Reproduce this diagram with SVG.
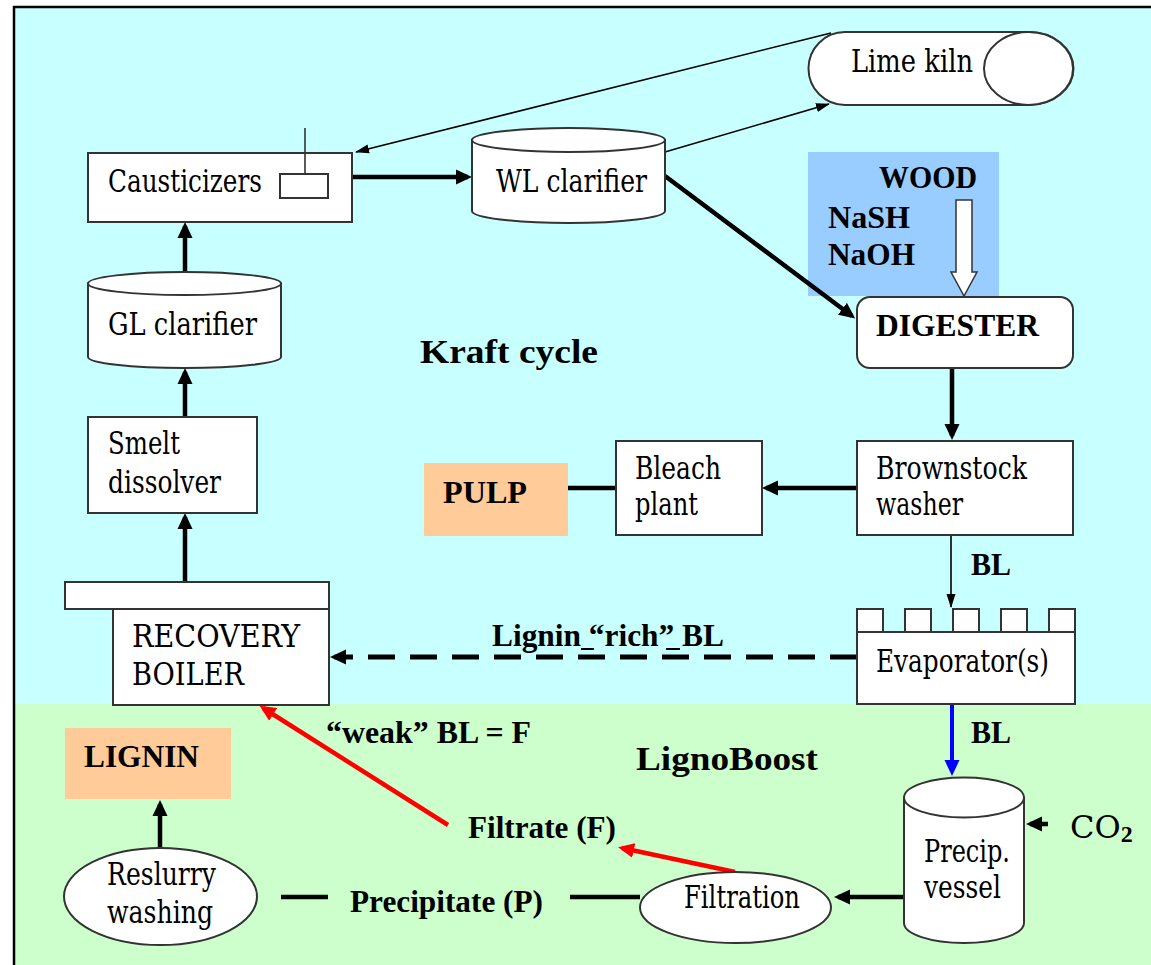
<svg xmlns="http://www.w3.org/2000/svg" width="1151" height="965" viewBox="0 0 1151 965">
<style>
.box{fill:#fff;stroke:#333;stroke-width:2}
.t{font-family:'Liberation Serif','Times New Roman',serif;font-size:32px;font-weight:normal;fill:#000}
.r{font-family:'DejaVu Serif','Liberation Serif',serif;font-weight:normal}
.b{font-weight:bold}
.big{font-size:34px;font-weight:bold}
.thick{stroke:#000;stroke-width:4.5;fill:none}
.thin{stroke:#000;stroke-width:1.6;fill:none}
.red{stroke:#f00;stroke-width:4.5;fill:none}
.blue{stroke:#00f;stroke-width:4;fill:none}
</style>
<defs>
<marker id="ah" markerUnits="userSpaceOnUse" markerWidth="16" markerHeight="16" refX="12" refY="8" orient="auto"><path d="M0,0.5 L16,8 L0,15.5 Z" fill="#000"/></marker>
<marker id="ahr" markerUnits="userSpaceOnUse" markerWidth="16" markerHeight="16" refX="12" refY="8" orient="auto"><path d="M0,0.5 L16,8 L0,15.5 Z" fill="#f00"/></marker>
<marker id="ahb" markerUnits="userSpaceOnUse" markerWidth="16" markerHeight="16" refX="12" refY="8" orient="auto"><path d="M0,0.5 L16,8 L0,15.5 Z" fill="#00f"/></marker>
<marker id="aht" markerUnits="userSpaceOnUse" markerWidth="14" markerHeight="10" refX="13" refY="5" orient="auto"><path d="M0,0.5 L14,5 L0,9.5 Z" fill="#000"/></marker>
</defs>

<g id="background">
<rect x="14" y="7" width="1137" height="697" fill="#C8FFFF"/>
<rect x="14" y="704" width="1137" height="261" fill="#CCFFCC"/>
<line x1="13" y1="7" x2="1151" y2="7" stroke="#000" stroke-width="2.5"/>
<line x1="14" y1="6" x2="14" y2="965" stroke="#000" stroke-width="2.5"/>
</g>

<g id="titles">
<text class="t big" x="420" y="363" textLength="178" lengthAdjust="spacingAndGlyphs">Kraft cycle</text>
<text class="t big" x="636" y="770" textLength="182" lengthAdjust="spacingAndGlyphs">LignoBoost</text>
</g>

<g id="wood">
<rect x="808" y="152" width="191" height="144" fill="#99CCFF"/>
<text class="t b" x="879" y="188" textLength="98" lengthAdjust="spacingAndGlyphs">WOOD</text>
<text class="t b" x="828" y="228" textLength="82" lengthAdjust="spacingAndGlyphs">NaSH</text>
<text class="t b" x="828" y="265" textLength="87" lengthAdjust="spacingAndGlyphs">NaOH</text>
<path d="M956,200 L972,200 L972,272 L977,272 L964,296 L951,272 L956,272 Z" fill="#fff" stroke="#333" stroke-width="1.5"/>
</g>

<g id="connectors">
<line class="thin" x1="831" y1="33" x2="356" y2="152" marker-end="url(#aht)"/>
<line class="thick" x1="352" y1="177" x2="468" y2="177" marker-end="url(#ah)"/>
<line class="thin" x1="665" y1="152" x2="829" y2="104" marker-end="url(#aht)"/>
<line class="thick" x1="665" y1="176" x2="852" y2="316" marker-end="url(#ah)"/>
<line class="thick" x1="952" y1="368" x2="952" y2="436" marker-end="url(#ah)"/>
<line class="thick" x1="857" y1="488" x2="766" y2="488" marker-end="url(#ah)"/>
<line class="thick" x1="616" y1="488" x2="568" y2="488"/>
<line class="thin" x1="951" y1="535" x2="951" y2="607" stroke-width="2" marker-end="url(#aht)"/>
<line x1="857" y1="657" x2="345" y2="657" stroke="#000" stroke-width="5" stroke-dasharray="27 15"/>
<line class="thick" x1="345" y1="657" x2="334" y2="657" marker-end="url(#ah)"/>
<line x1="581" y1="649" x2="594" y2="649" stroke="#000" stroke-width="2"/>
<line x1="666" y1="649" x2="680" y2="649" stroke="#000" stroke-width="2"/>
<line class="blue" x1="952" y1="704" x2="952" y2="772" marker-end="url(#ahb)"/>
<line class="thick" x1="1048" y1="824" x2="1030" y2="824" marker-end="url(#ah)"/>
<line class="thick" x1="904" y1="897" x2="838" y2="897" marker-end="url(#ah)"/>
<line class="red" x1="735" y1="872" x2="622" y2="848" marker-end="url(#ahr)"/>
<line class="red" x1="448" y1="825" x2="263" y2="708" marker-end="url(#ahr)"/>
<line class="thick" x1="160" y1="848" x2="160" y2="804" marker-end="url(#ah)"/>
<line class="thick" x1="281" y1="897" x2="328" y2="897"/>
<line class="thick" x1="570" y1="897" x2="640" y2="897"/>
<line class="thick" x1="185" y1="272" x2="185" y2="226" marker-end="url(#ah)"/>
<line class="thick" x1="185" y1="417" x2="185" y2="372" marker-end="url(#ah)"/>
<line class="thick" x1="185" y1="582" x2="185" y2="517" marker-end="url(#ah)"/>
</g>

<g id="label-lignin-rich">
<text class="t b" x="492" y="646" textLength="232" lengthAdjust="spacingAndGlyphs">Lignin “rich” BL</text>
</g>
<g id="label-bl1"><text class="t b" x="971" y="575" textLength="40" lengthAdjust="spacingAndGlyphs">BL</text></g>
<g id="label-bl2"><text class="t b" x="971" y="743" textLength="40" lengthAdjust="spacingAndGlyphs">BL</text></g>
<g id="label-weak"><text class="t b" x="326" y="743" textLength="205" lengthAdjust="spacingAndGlyphs">“weak” BL = F</text></g>
<g id="label-filtrate"><text class="t b" x="468" y="838" textLength="148" lengthAdjust="spacingAndGlyphs">Filtrate (F)</text></g>
<g id="label-precipitate"><text class="t b" x="350" y="912" textLength="193" lengthAdjust="spacingAndGlyphs">Precipitate (P)</text></g>
<g id="label-co2"><text class="t r" x="1070" y="838" font-size="28">CO<tspan font-family="Liberation Serif, serif" font-weight="bold" font-size="24" dy="4">2</tspan></text></g>

<g id="lime-kiln">
<path class="box" d="M845,32 L1029,32 A44.5,36.5 0 0 1 1029,105 L845,105 A36.5,36.5 0 0 1 845,32 Z"/>
<ellipse class="box" cx="1028.5" cy="68.5" rx="44.5" ry="36.5"/>
<text class="t r" x="851" y="72" textLength="122" lengthAdjust="spacingAndGlyphs">Lime kiln</text>
</g>

<g id="causticizers">
<rect class="box" x="88" y="153" width="264" height="69"/>
<rect class="box" x="280" y="174" width="48" height="24"/>
<line x1="305" y1="128" x2="305" y2="174" stroke="#333" stroke-width="1.6"/>
<text class="t r" x="108" y="192" textLength="154" lengthAdjust="spacingAndGlyphs">Causticizers</text>
</g>

<g id="wl-clarifier">
<path class="box" d="M472,140 L472,211 A96.5,12 0 0 0 665,211 L665,140 Z"/>
<ellipse class="box" cx="568.5" cy="140" rx="96.5" ry="12"/>
<text class="t r" x="496" y="192" textLength="151" lengthAdjust="spacingAndGlyphs">WL clarifier</text>
</g>

<g id="gl-clarifier">
<path class="box" d="M88,283.5 L88,357 A96.5,11 0 0 0 281,357 L281,283.5 Z"/>
<ellipse class="box" cx="184.5" cy="283.5" rx="96.5" ry="11.5"/>
<text class="t r" x="108" y="335" textLength="149" lengthAdjust="spacingAndGlyphs">GL clarifier</text>
</g>

<g id="smelt-dissolver">
<rect class="box" x="88" y="417" width="169" height="96"/>
<text class="t r" x="108" y="454" textLength="72" lengthAdjust="spacingAndGlyphs">Smelt</text>
<text class="t r" x="108" y="493" textLength="113" lengthAdjust="spacingAndGlyphs">dissolver</text>
</g>

<g id="recovery-boiler">
<rect class="box" x="65" y="582" width="264" height="27"/>
<rect class="box" x="113" y="609" width="216" height="96"/>
<text class="t r" x="132" y="647" textLength="168" lengthAdjust="spacingAndGlyphs">RECOVERY</text>
<text class="t r" x="132" y="685" textLength="112" lengthAdjust="spacingAndGlyphs">BOILER</text>
</g>

<g id="digester">
<rect class="box" x="857" y="297" width="216" height="71" rx="13"/>
<text class="t b" x="876" y="336" textLength="163" lengthAdjust="spacingAndGlyphs">DIGESTER</text>
</g>

<g id="brownstock-washer">
<rect class="box" x="857" y="441" width="216" height="94"/>
<text class="t r" x="876" y="479" textLength="151" lengthAdjust="spacingAndGlyphs">Brownstock</text>
<text class="t r" x="876" y="515" textLength="87" lengthAdjust="spacingAndGlyphs">washer</text>
</g>

<g id="bleach-plant">
<rect class="box" x="616" y="441" width="146" height="94"/>
<text class="t r" x="635" y="479" textLength="86" lengthAdjust="spacingAndGlyphs">Bleach</text>
<text class="t r" x="635" y="515" textLength="63" lengthAdjust="spacingAndGlyphs">plant</text>
</g>

<g id="pulp">
<rect x="424" y="463" width="144" height="73" fill="#FFCC99"/>
<text class="t b" x="443" y="503" textLength="84" lengthAdjust="spacingAndGlyphs">PULP</text>
</g>

<g id="evaporators">
<rect class="box" x="857" y="609" width="26" height="23"/>
<rect class="box" x="905" y="609" width="26" height="23"/>
<rect class="box" x="953" y="609" width="26" height="23"/>
<rect class="box" x="1001" y="609" width="26" height="23"/>
<rect class="box" x="1049" y="609" width="26" height="23"/>
<rect class="box" x="857" y="632" width="218" height="72"/>
<text class="t r" x="876" y="672" textLength="173" lengthAdjust="spacingAndGlyphs">Evaporator(s)</text>
</g>

<g id="precip-vessel">
<path class="box" d="M904,797.5 L904,923 A60,20 0 0 0 1024,923 L1024,797.5 Z"/>
<ellipse class="box" cx="964" cy="797.5" rx="60" ry="20"/>
<text class="t r" x="924" y="862" textLength="86" lengthAdjust="spacingAndGlyphs">Precip.</text>
<text class="t r" x="924" y="898" textLength="77" lengthAdjust="spacingAndGlyphs">vessel</text>
</g>

<g id="filtration">
<ellipse class="box" cx="735.5" cy="907.5" rx="95.5" ry="35.5"/>
<text class="t r" x="684" y="908" textLength="116" lengthAdjust="spacingAndGlyphs">Filtration</text>
</g>

<g id="lignin">
<rect x="65" y="728" width="166" height="71" fill="#FFCC99"/>
<text class="t b" x="84" y="767" textLength="115" lengthAdjust="spacingAndGlyphs">LIGNIN</text>
</g>

<g id="reslurry-washing">
<ellipse class="box" cx="160.5" cy="896.5" rx="96.5" ry="48.5"/>
<text class="t r" x="107" y="885" textLength="109" lengthAdjust="spacingAndGlyphs">Reslurry</text>
<text class="t r" x="107" y="923" textLength="106" lengthAdjust="spacingAndGlyphs">washing</text>
</g>
</svg>
